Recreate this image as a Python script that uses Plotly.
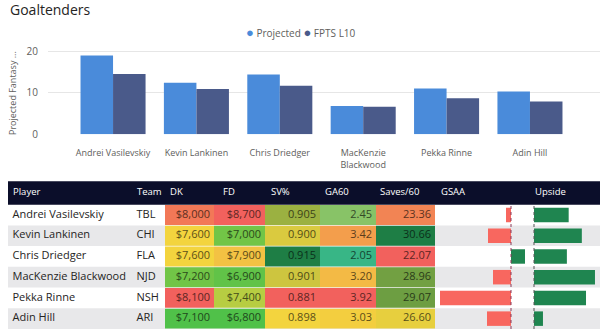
import plotly.graph_objects as go
from plotly.colors import sample_colorscale, unlabel_rgb

# ---- data ----
players = ["Andrei Vasilevskiy", "Kevin Lankinen", "Chris Driedger",
           "MacKenzie Blackwood", "Pekka Rinne", "Adin Hill"]
axis_labels = ["Andrei Vasilevskiy", "Kevin Lankinen", "Chris Driedger",
               "MacKenzie<br>Blackwood", "Pekka Rinne", "Adin Hill"]
teams = ["TBL", "CHI", "FLA", "NJD", "NSH", "ARI"]
projected = [19.0, 12.4, 14.4, 6.8, 11.0, 10.3]
fpts_l10 = [14.5, 10.9, 11.7, 6.6, 8.7, 7.9]
dk_salary = [8000, 7600, 7600, 7200, 8100, 7100]
fd_salary = [8700, 7000, 7900, 6900, 7400, 6800]
save_pct = [0.905, 0.900, 0.915, 0.901, 0.881, 0.898]
ga60 = [2.45, 3.42, 2.05, 3.20, 3.92, 3.03]
saves60 = [23.36, 30.66, 22.07, 28.96, 29.07, 26.60]
gsaa = [-0.5, -2.3, 1.4, -1.8, -7.1, -2.4]
upside = [5.8, 8.0, 5.5, 10.2, 8.7, 1.5]
headers = ["Player", "Team", "DK", "FD", "SV%", "GA60", "Saves/60", "GSAA", "Upside"]

W, H = 600, 336
FONT = "Open Sans"
GREY_TXT = "#605E5C"
DARK_TXT = "#252423"
STRIPE = "#E8E8EA"
NAVY = "#0B0E2A"

RED, YEL = "rgb(242, 97, 93)", "rgb(243, 212, 62)"
GREEN_BRIGHT, GREEN_DARK, GREEN_TEAL = "rgb(80, 193, 73)", "rgb(30, 126, 69)", "rgb(56, 182, 134)"


def cond_colors(values, good, higher_is_better):
    """Red -> yellow -> green conditional fill plus a darker matching font colour."""
    lo, hi = min(values), max(values)
    t = [(v - lo) / (hi - lo) for v in values]
    if not higher_is_better:
        t = [1 - x for x in t]
    fills = sample_colorscale([[0, RED], [0.5, YEL], [1, good]], t)
    fonts = []
    for f in fills:
        r, g, b = unlabel_rgb(f)
        fonts.append(f"rgb({r*0.38:.0f},{g*0.38:.0f},{b*0.38:.0f})")
    return fills, fonts


# ---- table geometry (pixels) ----
tbl_left, tbl_top, hdr_bottom = 8, 185, 209
# column edges: Player | Team | DK | FD | SV% | GA60 | Saves/60 | GSAA | Upside
edges = [8, 132, 165, 214, 265, 320, 376, 435, 530, 600]
header_x = [12, 136, 169, 222, 270, 324, 379, 440, 534]

# numeric columns with conditional formatting: (label list, values, good colour, higher better)
numeric_cols = [
    ([f"${v:,}" for v in dk_salary], dk_salary, GREEN_BRIGHT, False),
    ([f"${v:,}" for v in fd_salary], fd_salary, GREEN_BRIGHT, False),
    ([f"{v:.3f}" for v in save_pct], save_pct, GREEN_DARK, True),
    ([f"{v:.2f}" for v in ga60], ga60, GREEN_TEAL, False),
    ([f"{v:.2f}" for v in saves60], saves60, GREEN_DARK, True),
]

fig = go.Figure()

# ---- top: grouped bar chart ----
fig.add_bar(x=axis_labels, y=projected, name="Projected", marker_color="#4A8BDA",
            marker_line_width=0, xaxis="x", yaxis="y")
fig.add_bar(x=axis_labels, y=fpts_l10, name="FPTS L10", marker_color="#4A5A8A",
            marker_line_width=0, xaxis="x", yaxis="y")

shapes = []
# header band
shapes.append(dict(type="rect", xref="paper", yref="paper", x0=tbl_left / W, x1=1,
                   y0=1 - hdr_bottom / H, y1=1 - tbl_top / H, fillcolor=NAVY,
                   line_width=0, layer="below"))
# alternating row stripes
for i in range(len(players)):
    if i % 2 == 1:
        shapes.append(dict(type="rect", xref="paper", yref="y3", x0=tbl_left / W, x1=1,
                           y0=i - 0.5, y1=i + 0.5, fillcolor=STRIPE, line_width=0,
                           layer="below"))

# text columns
fig.add_scatter(x=[edges[0] + 4.5] * len(players), y=players, text=players, mode="text",
                textposition="middle right", xaxis="x5", yaxis="y3", hoverinfo="skip",
                textfont=dict(family=FONT, size=11, color=DARK_TXT), showlegend=False)
fig.add_scatter(x=[edges[1] + 4.5] * len(players), y=players, text=teams, mode="text",
                textposition="middle right", xaxis="x5", yaxis="y3", hoverinfo="skip",
                textfont=dict(family=FONT, size=11, color=DARK_TXT), showlegend=False)

# conditionally formatted numeric columns
for k, (labels, vals, good, hib) in enumerate(numeric_cols):
    fills, fonts = cond_colors(vals, good, hib)
    x0, x1 = edges[2 + k], edges[3 + k]
    for i, c in enumerate(fills):
        shapes.append(dict(type="rect", xref="paper", yref="y3", x0=x0 / W, x1=x1 / W,
                           y0=i - 0.48, y1=i + 0.48, fillcolor=c, line_width=0,
                           layer="below"))
    fig.add_scatter(x=[x1 - 4] * len(players), y=players, text=labels, mode="text",
                    textposition="middle left", xaxis="x5", yaxis="y3", hoverinfo="skip",
                    textfont=dict(family=FONT, size=11, color=fonts), showlegend=False)

# data bars
fig.add_bar(x=gsaa, y=players, orientation="h", xaxis="x3", yaxis="y3", width=0.7,
            marker_color=["#1F8550" if v > 0 else "#F8675F" for v in gsaa],
            marker_line_width=0, showlegend=False, hoverinfo="skip")
fig.add_bar(x=upside, y=players, orientation="h", xaxis="x4", yaxis="y3", width=0.7,
            marker_color="#1F8550", marker_line_width=0, showlegend=False, hoverinfo="skip")

shapes.append(dict(type="line", xref="x3", yref="y3 domain", x0=0, x1=0, y0=0, y1=1,
                   line=dict(color="#8A3A5A", width=1, dash="dot")))
shapes.append(dict(type="line", xref="x4", yref="y3 domain", x0=0, x1=0, y0=0, y1=1,
                   line=dict(color="#555555", width=1, dash="dot")))

annotations = [
    dict(text="Goaltenders", xref="paper", yref="paper", x=8 / W, y=1 - 10 / H,
         xanchor="left", yanchor="middle", showarrow=False,
         font=dict(family=FONT, size=14, color=DARK_TXT)),
    dict(text="<span style='color:#4A8BDA;font-size:13px'>●</span> Projected "
              "<span style='color:#4A5A8A;font-size:13px'>●</span> FPTS L10",
         xref="paper", yref="paper", x=301 / W, y=1 - 33 / H,
         xanchor="center", yanchor="middle", showarrow=False,
         font=dict(family=FONT, size=10, color=GREY_TXT)),
    dict(text="Projected Fantasy ...", xref="paper", yref="paper", x=12 / W, y=1 - 95 / H,
         xanchor="center", yanchor="middle", textangle=-90, showarrow=False,
         font=dict(family=FONT, size=9, color=GREY_TXT)),
]
for hx, label in zip(header_x, headers):
    annotations.append(dict(text=label, xref="paper", yref="paper", x=hx / W,
                            y=1 - 196 / H, xanchor="left", yanchor="middle",
                            showarrow=False, xshift=-1,
                            font=dict(family=FONT, size=9.5, color="white")))

fig.update_layout(
    width=W, height=H, margin=dict(l=0, r=0, t=0, b=0),
    paper_bgcolor="white", plot_bgcolor="rgba(0,0,0,0)",
    barmode="group", bargap=0.22, bargroupgap=0,
    showlegend=False,
    font=dict(family=FONT, color=GREY_TXT),
    xaxis=dict(domain=[48 / W, 1], range=[-0.78, 5.84], showgrid=False, zeroline=False,
               showline=False, ticks="", ticklabelstandoff=12, fixedrange=True,
               tickfont=dict(family=FONT, size=9, color=GREY_TXT)),
    yaxis=dict(domain=[1 - 137 / H, 1 - 44 / H], range=[0, 22], dtick=10,
               showgrid=True, gridcolor="#E6E6E6", gridwidth=1, zeroline=False,
               showline=False, ticks="", ticklabelstandoff=9, fixedrange=True,
               tickfont=dict(family=FONT, size=10, color=GREY_TXT)),
    xaxis3=dict(domain=[edges[7] / W + 1 / W, edges[8] / W - 1 / W], range=[-7.5, 1.8],
                anchor="y3", visible=False, fixedrange=True),
    xaxis4=dict(domain=[edges[8] / W, 1.0], range=[-0.67, 11.04],
                anchor="y3", visible=False, fixedrange=True),
    xaxis5=dict(domain=[0, 1], range=[0, W], anchor="y3", visible=False, fixedrange=True),
    yaxis3=dict(domain=[0, 1 - hdr_bottom / H], range=[len(players) - 0.5, -0.5],
                anchor="x3", type="category", categoryorder="array",
                categoryarray=players, visible=False, fixedrange=True),
    shapes=shapes,
    annotations=annotations,
)

fig.write_html("out.html")
